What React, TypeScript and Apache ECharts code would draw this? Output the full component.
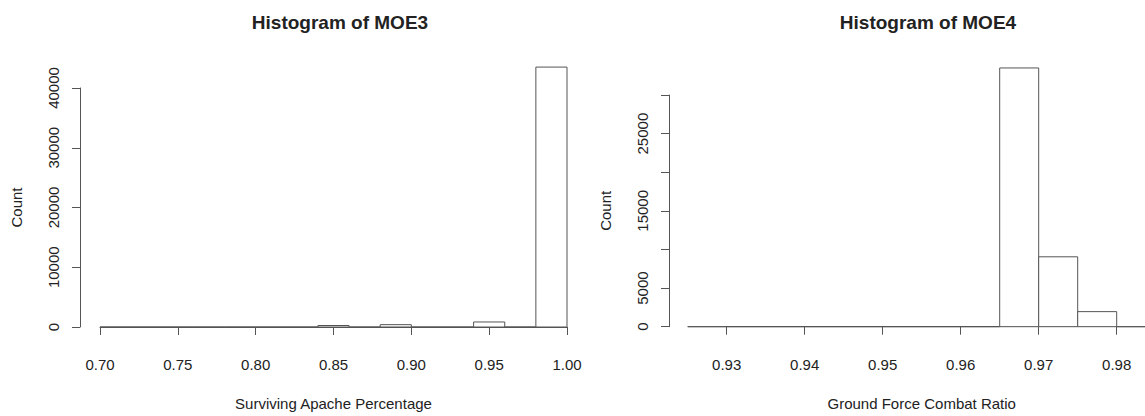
import React, { useEffect, useRef } from "react";
import * as echarts from "echarts";

// MOE3 histogram: bin edges (width 0.02) and counts
const moe3Edges = [0.70, 0.72, 0.74, 0.76, 0.78, 0.80, 0.82, 0.84, 0.86, 0.88, 0.90, 0.92, 0.94, 0.96, 0.98, 1.00];
const moe3Counts = [0, 0, 0, 0, 0, 0, 0, 250, 0, 390, 0, 0, 840, 0, 43500];
const moe3XTicks = [0.70, 0.75, 0.80, 0.85, 0.90, 0.95, 1.00];
const moe3YTicks = [0, 10000, 20000, 30000, 40000];

// MOE4 histogram: bin edges (width 0.005) and counts
const moe4Edges = [0.925, 0.930, 0.935, 0.940, 0.945, 0.950, 0.955, 0.960, 0.965, 0.970, 0.975, 0.980, 0.985];
const moe4Counts = [0, 0, 0, 0, 0, 0, 0, 0, 33500, 9050, 1950, 0];
const moe4XTicks = [0.93, 0.94, 0.95, 0.96, 0.97, 0.98];
const moe4YTicks = [0, 5000, 10000, 15000, 20000, 25000, 30000];
const moe4YLabelsShown = [0, 5000, 15000, 25000];

const FONT = "'Liberation Sans', Arial, Helvetica, sans-serif";
const LINE = "#555555";
const TEXT = "#222222";

function binData(edges: number[], counts: number[]) {
  return counts.map((c, i) => [edges[i], edges[i + 1], c]);
}

function renderBin(params: any, api: any) {
  const x0 = api.value(0);
  const x1 = api.value(1);
  const c = api.value(2);
  const p0 = api.coord([x0, 0]);
  const p1 = api.coord([x1, c]);
  return {
    type: "rect",
    shape: { x: p0[0], y: p1[1], width: p1[0] - p0[0], height: p0[1] - p1[1] },
    style: { fill: "#ffffff", stroke: LINE, lineWidth: 1 },
  };
}

export default function App() {
  const ref = useRef<HTMLDivElement>(null);
  useEffect(() => {
    if (!ref.current) return;
    const chart = echarts.init(ref.current, undefined, { renderer: "svg" });
    const xMin3 = moe3XTicks[0];
    const xMax3 = moe3XTicks[moe3XTicks.length - 1];
    const xMin4 = moe4XTicks[0];
    const xMax4 = moe4XTicks[moe4XTicks.length - 1];

    const xAxisCommon = {
      type: "value",
      nameLocation: "middle",
      nameGap: 58,
      nameTextStyle: { fontFamily: FONT, fontSize: 15, color: TEXT },
      axisLine: { show: true, lineStyle: { color: LINE, width: 1 } },
      axisTick: { show: true, length: 8, lineStyle: { color: LINE, width: 1 } },
      axisLabel: {
        fontFamily: FONT,
        fontSize: 15,
        color: TEXT,
        margin: 19,
        formatter: (v: number) => v.toFixed(2),
        showMinLabel: true,
        showMaxLabel: true,
      },
      splitLine: { show: false },
      offset: 11,
    };
    const yAxisCommon = {
      type: "value",
      name: "Count",
      nameLocation: "middle",
      nameRotate: 90,
      nameTextStyle: { fontFamily: FONT, fontSize: 15, color: TEXT },
      axisLine: { show: true, lineStyle: { color: LINE, width: 1 } },
      axisTick: { show: true, length: 8, lineStyle: { color: LINE, width: 1 } },
      axisLabel: {
        fontFamily: FONT,
        fontSize: 15,
        color: TEXT,
        rotate: 90,
        margin: 19,
        showMinLabel: true,
        showMaxLabel: true,
        formatter: (v: number) => String(v),
      },
      splitLine: { show: false },
    };

    chart.setOption({
      animation: false,
      backgroundColor: "#ffffff",
      title: [
        {
          text: "Histogram of MOE3",
          left: 335,
          top: 8,
          textAlign: "center",
          textStyle: { fontFamily: FONT, fontSize: 19, fontWeight: "bold", color: TEXT },
        },
        {
          text: "Histogram of MOE4",
          left: 923,
          top: 8,
          textAlign: "center",
          textStyle: { fontFamily: FONT, fontSize: 19, fontWeight: "bold", color: TEXT },
        },
      ],
      grid: [
        { left: 100, width: 467, top: 88, bottom: 89 },
        { left: 726.7, width: 390, top: 95, bottom: 89.3 },
      ],
      xAxis: [
        {
          ...xAxisCommon,
          gridIndex: 0,
          name: "Surviving Apache Percentage",
          min: xMin3,
          max: xMax3,
          interval: moe3XTicks[1] - moe3XTicks[0],
        },
        {
          ...xAxisCommon,
          gridIndex: 1,
          name: "Ground Force Combat Ratio",
          min: xMin4,
          max: xMax4,
          interval: 0.01,
        },
      ],
      yAxis: [
        {
          ...yAxisCommon,
          gridIndex: 0,
          min: moe3YTicks[0],
          max: moe3YTicks[moe3YTicks.length - 1],
          interval: moe3YTicks[1] - moe3YTicks[0],
          offset: 20,
          nameGap: 56,
        },
        {
          ...yAxisCommon,
          gridIndex: 1,
          min: moe4YTicks[0],
          max: moe4YTicks[moe4YTicks.length - 1],
          interval: moe4YTicks[1] - moe4YTicks[0],
          offset: 57.7,
          nameGap: 56,
          axisLabel: {
            ...yAxisCommon.axisLabel,
            formatter: (v: number) => (moe4YLabelsShown.includes(v) ? String(v) : ""),
          },
        },
      ],
      series: [
        {
          type: "custom",
          xAxisIndex: 0,
          yAxisIndex: 0,
          clip: false,
          renderItem: renderBin,
          encode: { x: [0, 1], y: 2 },
          data: binData(moe3Edges, moe3Counts),
          silent: true,
        },
        {
          type: "custom",
          xAxisIndex: 1,
          yAxisIndex: 1,
          clip: false,
          renderItem: renderBin,
          encode: { x: [0, 1], y: 2 },
          data: binData(moe4Edges, moe4Counts),
          silent: true,
        },
      ],
    });
    return () => chart.dispose();
  }, []);
  return (
    <div
      ref={ref}
      style={{ position: "fixed", left: 0, top: 0, width: 1145, height: 416, background: "#fff" }}
    />
  );
}
